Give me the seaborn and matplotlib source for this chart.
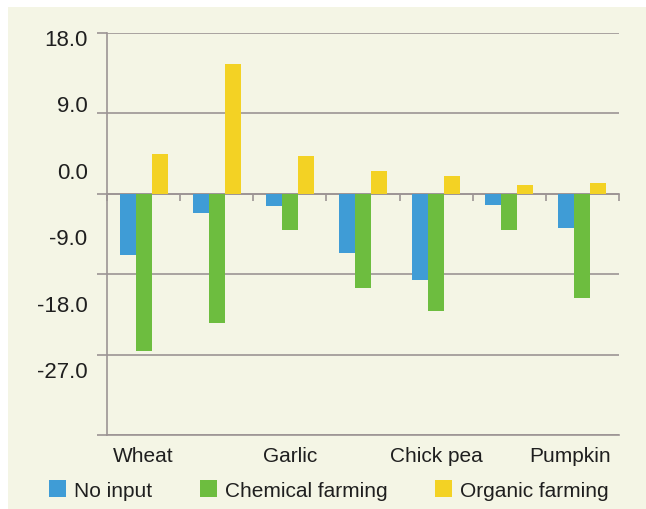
import numpy as np
import pandas as pd
import seaborn as sns
import matplotlib.pyplot as plt
import matplotlib.transforms as mtransforms
from matplotlib.patches import Rectangle, Patch

# Change per crop (gridline units)
crops = ["Wheat", "Crop 2", "Garlic", "Crop 4", "Chick pea", "Crop 6", "Pumpkin"]
shown_labels = ["Wheat", "", "Garlic", "", "Chick pea", "", "Pumpkin"]
series = ["No input", "Chemical farming", "Organic farming"]
no_input = [-6.8, -2.1, -1.4, -6.6, -9.6, -1.3, -3.8]
chemical = [-17.6, -14.5, -4.1, -10.5, -13.1, -4.1, -11.7]
organic = [4.5, 14.5, 4.2, 2.6, 2.0, 1.0, 1.2]
y_ticks = [18.0, 9.0, 0.0, -9.0, -18.0, -27.0]

colors = ["#3f9cd6", "#6dbd3f", "#f3d224"]
bg = "#f4f5e5"
grid_c = "#9c9494"
text_c = "#1f1f1f"

df = pd.DataFrame({
    "crop": crops * 3,
    "treatment": np.repeat(series, len(crops)),
    "change": no_input + chemical + organic,
})

sns.set_style("white")
plt.rcParams["font.family"] = ["Liberation Sans", "DejaVu Sans"]

fig = plt.figure(figsize=(6.46, 5.10), dpi=100, facecolor="white")
fig.patches.append(Rectangle((8 / 646, 0), 1, 1 - 8 / 510, transform=fig.transFigure,
                             facecolor=bg, edgecolor="none", zorder=-10))

ax = fig.add_axes([107 / 646, 74 / 510, 512 / 646, 402 / 510])
ax.set_facecolor("none")
sns.barplot(data=df, x="crop", y="change", hue="treatment", palette=colors,
            width=0.656, gap=0, saturation=1, linewidth=0, legend=False, ax=ax)

ax.set_xlim(-0.5, len(crops) - 0.5)
ax.set_ylim(min(y_ticks), max(y_ticks))
ax.set_yticks(y_ticks)
ax.set_yticklabels([""] * len(y_ticks))
ax.tick_params(axis="y", length=7, width=1.2, color=grid_c, direction="out")
ax.set_xticks(range(len(crops)))
ax.set_xticklabels(shown_labels)
ax.tick_params(axis="x", length=0, pad=8, labelsize=15, labelcolor=text_c)
# the last label sits a little left of its group in the original
last = ax.get_xticklabels()[-1]
last.set_transform(last.get_transform() +
                   mtransforms.ScaledTranslation(-12 / 100, 0, fig.dpi_scale_trans))
ax.grid(axis="y", color=grid_c, linewidth=1.2)
ax.set_axisbelow(True)
ax.set_xlabel("")
ax.set_ylabel("")
for side in ["top", "right"]:
    ax.spines[side].set_visible(False)
for side in ["left", "bottom"]:
    ax.spines[side].set_color(grid_c)
    ax.spines[side].set_linewidth(1.2)

# zero line with category boundary ticks
zero_frac = (0 - min(y_ticks)) / (max(y_ticks) - min(y_ticks))
secax = ax.secondary_xaxis(zero_frac)
secax.set_xticks(np.arange(-0.5, len(crops), 1.0))
secax.set_xticklabels([])
secax.tick_params(direction="in", length=5, width=1.2, color=grid_c)
for sp in secax.spines.values():
    sp.set_color(grid_c)
    sp.set_linewidth(1.2)

# tick labels as printed (they drift from the gridlines in the original)
ax2 = ax.twinx()
ax2.set_ylim(-35.95, 18.54)
ax2.set_yticks(y_ticks)
ax2.set_yticklabels([f"{v:.1f}" for v in y_ticks])
ax2.yaxis.set_ticks_position("left")
ax2.tick_params(axis="y", length=0, pad=14, labelsize=16, labelcolor=text_c)
for sp in ax2.spines.values():
    sp.set_visible(False)

handles = [Patch(facecolor=c, edgecolor="none") for c in colors]
fig.legend(handles, series, loc="center left", bbox_to_anchor=(49 / 646, 1 - 491 / 510),
           ncol=3, frameon=False, handlelength=0.82, handleheight=0.82,
           handletextpad=0.37, columnspacing=2.3, fontsize=15,
           borderpad=0, borderaxespad=0, labelcolor=text_c)

fig.savefig("out.png", dpi=100, facecolor="white")
